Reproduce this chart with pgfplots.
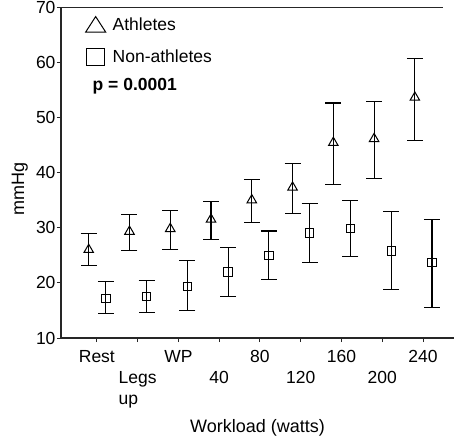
\documentclass[border=0pt]{standalone}
\usepackage{fontspec}
\setmainfont{Liberation Sans}
\usepackage{pgfplots}
\usepackage{pgfplotstable}
\pgfplotsset{compat=1.18}

% x = category index (0 = Rest ... 8 = 240 W), shifted per group
% ep / em = upper / lower length of the error bar
\pgfplotstableread{
x     y     ep   em
-0.20 26.0  2.9  2.9
0.80  29.3  3.1  3.4
1.80  29.8  3.3  3.7
2.80  31.5  3.3  3.7
3.80  35.0  3.7  4.0
4.80  37.3  4.3  4.8
5.80  45.4  7.2  7.6
6.80  46.1  6.7  7.2
7.80  53.6  7.1  7.8
}\athletes

\pgfplotstableread{
x     y     ep   em
0.22  17.2  3.1  2.8
1.22  17.5  2.9  2.8
2.22  19.3  4.8  4.3
3.22  22.0  4.4  4.5
4.22  25.0  4.4  4.4
5.22  29.0  5.3  5.3
6.22  29.9  5.1  5.1
7.22  25.8  7.1  7.0
8.22  23.7  7.8  8.2
}\nonathletes

\begin{document}
\begin{tikzpicture}
\begin{axis}[
    name=ax,
    width=393pt, height=331pt, scale only axis,
    xmin=-0.88, xmax=8.76,
    ymin=10, ymax=70,
    axis x line=bottom, axis y line=left,
    axis line style={-, line width=1.2pt, black!85},
    xtick={0,1,2,3,4,5,6,7,8},
    xticklabels={{\strut Rest}, {\strut\\Legs\\up}, {\strut WP}, {\strut\\40},
                 {\strut 80}, {\strut\\120}, {\strut 160}, {\strut\\200}, {\strut 240}},
    xticklabel style={align=left, anchor=north, yshift=-2pt},
    ytick={10,20,30,40,50,60,70},
    yticklabel style={xshift=2pt},
    tick align=outside, major tick length=4pt,
    tick style={line width=1pt, black!85},
    font=\fontsize{17.5}{21}\selectfont,
    /pgf/number format/assume math mode=true,
    xlabel={Workload (watts)},
    xlabel style={at={(axis description cs:0.5,-0.27)}, anchor=center,
        font=\fontsize{18}{21}\selectfont},
    ylabel={mmHg},
    ylabel style={at={(axis description cs:-0.105,0.45)}, anchor=center,
        font=\fontsize{18}{21}\selectfont},
    legend style={at={(axis description cs:0.061,0.975)}, anchor=north west,
        draw=none, fill=none, inner sep=0pt, row sep=14pt,
        font=\fontsize{17.5}{21}\selectfont},
    legend cell align=left,
    error bars/error bar style={line width=1.1pt, black},
    error bars/error mark options={rotate=90, line width=1.1pt, mark size=8pt, black},
]

\addplot[only marks, black, mark=triangle, mark size=5.5pt,
    mark options={line width=1pt, fill=white},
    error bars/.cd, y dir=both, y explicit,
    /pgfplots/legend image code/.code={
        \path[draw=none] (0pt,0pt) -- (25pt,0pt);
        \draw[line width=1pt] (0pt,-7.5pt) -- (20pt,-7.5pt) -- (10pt,8pt) -- cycle;}]
    table[x=x, y=y, y error plus=ep, y error minus=em] {\athletes};
\addlegendentry{Athletes}

\addplot[only marks, black, mark=square, mark size=4.2pt,
    mark options={line width=1pt, fill=white},
    error bars/.cd, y dir=both, y explicit,
    /pgfplots/legend image code/.code={
        \path[draw=none] (0pt,0pt) -- (25pt,0pt);
        \draw[line width=1pt] (0.5pt,-8.5pt) rectangle (18.5pt,8.5pt);}]
    table[x=x, y=y, y error plus=ep, y error minus=em] {\nonathletes};
\addlegendentry{Non-athletes}

\addlegendimage{empty legend}
\addlegendentry{\hspace*{-20pt}\raisebox{4pt}[\height][\depth]{\textbf{p = 0.0001}}}

% top frame line
\draw[line width=1.2pt, black!85] (rel axis cs:0,1) -- (rel axis cs:0.972,1);
\end{axis}
\pgfresetboundingbox
\path ([xshift=-61pt,yshift=-99pt]ax.south west) rectangle ([yshift=7pt]ax.north east);
\end{tikzpicture}
\end{document}
